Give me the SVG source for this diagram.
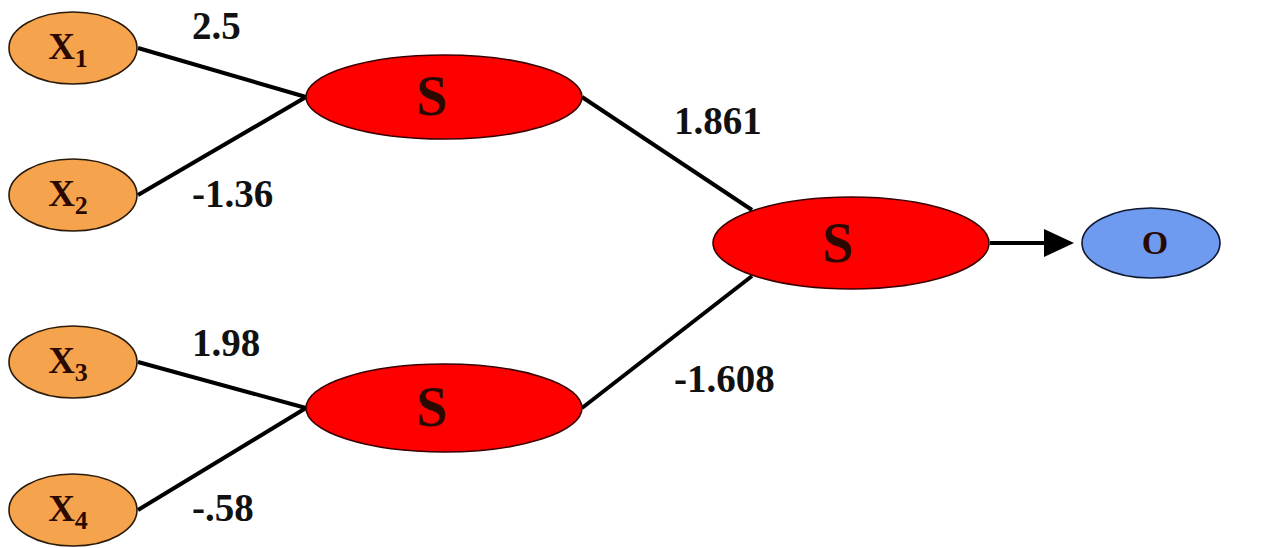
<svg xmlns="http://www.w3.org/2000/svg" width="1268" height="548" viewBox="0 0 1268 548">
  <style>
    .input { fill: #F6A34D; stroke: #2a1a0a; stroke-width: 1.6; }
    .sum { fill: #FF0000; stroke: #3a0000; stroke-width: 1.6; }
    .out { fill: #6E9BF0; stroke: #101830; stroke-width: 1.6; }
    .edge { stroke: #000; stroke-width: 4; fill: none; }
    .w { font-family: "Liberation Serif", "Times New Roman", serif; font-weight: bold; font-size: 39px; fill: #111; }
    .lbl { font-family: "Liberation Serif", "Times New Roman", serif; font-weight: bold; fill: #2a0a00; text-anchor: middle; }
  </style>
  <rect width="1268" height="548" fill="#fff"/>

  <g id="connectors">
    <line class="edge" x1="138" y1="48" x2="306" y2="97"/>
    <line class="edge" x1="138" y1="195" x2="306" y2="97"/>
    <line class="edge" x1="138" y1="362" x2="306" y2="408"/>
    <line class="edge" x1="138" y1="510" x2="306" y2="408"/>
    <line class="edge" x1="582" y1="97" x2="752" y2="210"/>
    <line class="edge" x1="582" y1="408" x2="752" y2="276"/>
    <line x1="990" y1="243" x2="1046" y2="243" stroke="#000" stroke-width="4"/>
    <path d="M1044,229 L1074,243 L1044,257 z" fill="#000"/>
    <text class="w" x="192" y="39">2.5</text>
    <text class="w" x="192" y="207">-1.36</text>
    <text class="w" x="674" y="134">1.861</text>
    <text class="w" x="192" y="356">1.98</text>
    <text class="w" x="674" y="392">-1.608</text>
    <text class="w" x="192" y="521">-.58</text>
  </g>

  <g id="x1">
    <ellipse class="input" cx="73" cy="48" rx="64" ry="36"/>
    <text class="lbl" x="68" y="59" font-size="37">X<tspan font-size="26" dy="8">1</tspan></text>
  </g>
  <g id="x2">
    <ellipse class="input" cx="73" cy="195" rx="64" ry="36"/>
    <text class="lbl" x="68" y="206" font-size="37">X<tspan font-size="26" dy="8">2</tspan></text>
  </g>
  <g id="x3">
    <ellipse class="input" cx="73" cy="362" rx="64" ry="36"/>
    <text class="lbl" x="68" y="373" font-size="37">X<tspan font-size="26" dy="8">3</tspan></text>
  </g>
  <g id="x4">
    <ellipse class="input" cx="73" cy="510" rx="64" ry="36"/>
    <text class="lbl" x="68" y="521" font-size="37">X<tspan font-size="26" dy="8">4</tspan></text>
  </g>

  <g id="s1">
    <ellipse class="sum" cx="444" cy="97" rx="138" ry="42"/>
    <text class="lbl" x="432" y="115" font-size="56">S</text>
  </g>
  <g id="s2">
    <ellipse class="sum" cx="444" cy="408" rx="138" ry="44"/>
    <text class="lbl" x="432" y="426" font-size="56">S</text>
  </g>
  <g id="s-out">
    <ellipse class="sum" cx="851" cy="243" rx="138" ry="46"/>
    <text class="lbl" x="838" y="262" font-size="56">S</text>
  </g>
  <g id="o">
    <ellipse class="out" cx="1151" cy="243" rx="69" ry="35"/>
    <text class="lbl" x="1155" y="254" font-size="34">O</text>
  </g>
</svg>
